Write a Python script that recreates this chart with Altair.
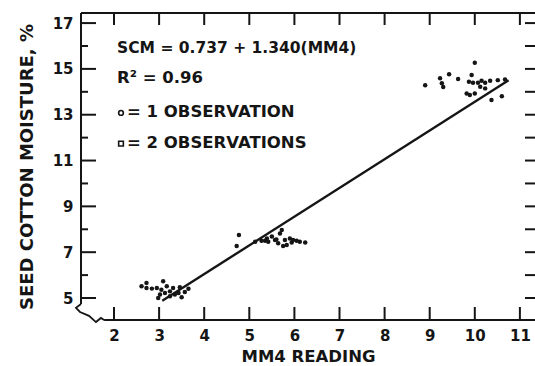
import altair as alt
import pandas as pd

# ---------------- data ----------------
obs_x = [2.61, 2.72, 2.84, 2.72, 2.95, 2.98, 3.02, 3.09, 3.17, 3.13, 3.24, 3.31, 3.35, 3.43,
         3.50, 3.57, 3.46, 3.24, 3.05, 3.65,
         4.77, 4.72, 5.13, 5.27, 5.39, 5.50, 5.57, 5.68, 5.64, 5.75, 5.79, 5.90, 5.94, 6.05,
         6.12, 6.24, 5.72, 5.42, 5.83, 5.97, 5.60, 5.35,
         8.90, 9.23, 9.27, 9.30, 9.43, 9.63, 10.00, 9.93, 9.87, 9.96, 10.07, 10.15, 10.23,
         10.34, 10.51, 10.12, 9.82, 9.89, 10.00, 10.23, 10.37, 10.60, 10.67]
obs_y = [5.51, 5.44, 5.41, 5.66, 5.44, 5.00, 5.15, 5.73, 5.51, 5.22, 5.29, 5.44, 5.15, 5.22,
         5.03, 5.26, 5.47, 5.08, 5.36, 5.40,
         7.75, 7.27, 7.46, 7.50, 7.60, 7.68, 7.53, 7.82, 7.39, 7.27, 7.53, 7.60, 7.42, 7.50,
         7.46, 7.42, 7.97, 7.46, 7.31, 7.53, 7.55, 7.50,
         14.29, 14.59, 14.37, 14.21, 14.77, 14.56, 15.27, 14.73, 14.44, 14.40, 14.40, 14.48, 14.40,
         14.48, 14.51, 14.22, 13.93, 13.86, 13.93, 14.15, 13.64, 13.81, 14.54]

fit_x = [3.07, 10.75]
fit_y = [4.88, 14.50]

x_label_values = [2, 3, 4, 5, 6, 7, 8, 9, 10, 11]
y_label_values = [5, 7, 9, 11, 13, 15, 17]
y_minor_values = [6, 8, 10, 12, 14, 16]
y_right_values = [5, 6, 7, 8, 9, 10, 11, 12, 13, 14, 15, 16, 17]

# axis-break squiggle near the lower-left corner
break_x = [1.268, 1.157, 1.246, 1.446, 1.60, 1.71, 1.78]
break_y = [4.74, 4.57, 4.39, 4.22, 3.95, 4.13, 4.04]

ann_text = ["SCM = 0.737 + 1.340(MM4)", "R\u00b2 = 0.96", "= 1 OBSERVATION", "= 2 OBSERVATIONS"]
ann_x = [2.067, 2.067, 2.288, 2.288]
ann_y = [15.69, 14.38, 12.90, 11.55]
ann_size = [15.5, 16.5, 16.5, 16.5]

sym_x = [2.155, 2.155]
sym_y = [13.08, 11.74]
sym_shape = ["circle", "square"]

# ---------------- layout ----------------
X_MIN, X_MAX = 1.268, 11.335
Y_MIN, Y_MAX = 4.04, 17.44
W, H = 454, 307
INK = "#151515"
FONT = "DejaVu Sans"

xs = alt.Scale(domain=[X_MIN, X_MAX], nice=False, zero=False)
ys = alt.Scale(domain=[Y_MIN, Y_MAX], nice=False, zero=False)

xaxis = alt.Axis(values=x_label_values, title="MM4 READING", domain=False, ticks=False,
                 tickSize=0, grid=False, labelFont=FONT, labelFontWeight="bold",
                 labelFontSize=15, labelColor=INK, labelPadding=8, labelFlush=False,
                 titleFont=FONT, titleFontWeight="bold", titleFontSize=16.5,
                 titleColor=INK, titlePadding=5, format="d")
yaxis = alt.Axis(values=y_label_values, title="SEED COTTON MOISTURE, %", domain=False,
                 ticks=False, tickSize=0, grid=False, labelFont=FONT,
                 labelFontWeight="bold", labelFontSize=15, labelColor=INK,
                 labelPadding=8, labelFlush=False, titleFont=FONT, titleFontWeight="bold",
                 titleFontSize=18, titleColor=INK, titlePadding=16, format="d")


def X(f):
    return alt.X(f, scale=xs, axis=xaxis)


def Y(f):
    return alt.Y(f, scale=ys, axis=yaxis)


obs = pd.DataFrame({"x": obs_x, "y": obs_y})
fit = pd.DataFrame({"x": fit_x, "y": fit_y})

points = alt.Chart(obs).mark_circle(size=20, color=INK, opacity=1).encode(
    x=X("x:Q"), y=Y("y:Q"))

line = alt.Chart(fit).mark_line(color=INK, strokeWidth=2.4).encode(
    x=X("x:Q"), y=Y("y:Q"))

frame = pd.DataFrame({
    "x": [X_MIN, X_MIN, 1.78],
    "x2": [X_MAX, X_MIN, X_MAX],
    "y": [Y_MAX, 4.74, Y_MIN],
    "y2": [Y_MAX, Y_MAX, Y_MIN],
})
frame_layer = alt.Chart(frame).mark_rule(color=INK, strokeWidth=2).encode(
    x=X("x:Q"), x2="x2:Q", y=Y("y:Q"), y2="y2:Q")

brk = pd.DataFrame({"x": break_x, "y": break_y, "o": list(range(len(break_x)))})
break_layer = alt.Chart(brk).mark_line(color=INK, strokeWidth=1.8).encode(
    x=X("x:Q"), y=Y("y:Q"), order="o:Q")

top_ticks = alt.Chart(pd.DataFrame({"x": x_label_values})).mark_rule(
    color=INK, strokeWidth=2).encode(x=X("x:Q"), y=alt.value(0), y2=alt.value(12))
bottom_ticks = alt.Chart(pd.DataFrame({"x": x_label_values})).mark_rule(
    color=INK, strokeWidth=2).encode(x=X("x:Q"), y=alt.value(H), y2=alt.value(H - 13))
left_major = alt.Chart(pd.DataFrame({"y": y_label_values})).mark_rule(
    color=INK, strokeWidth=2).encode(y=Y("y:Q"), x=alt.value(0), x2=alt.value(15))
left_minor = alt.Chart(pd.DataFrame({"y": y_minor_values})).mark_rule(
    color=INK, strokeWidth=2).encode(y=Y("y:Q"), x=alt.value(0), x2=alt.value(7))
right_ticks = alt.Chart(pd.DataFrame({"y": y_right_values})).mark_rule(
    color=INK, strokeWidth=2).encode(y=Y("y:Q"), x=alt.value(W - 10), x2=alt.value(W))

ann = pd.DataFrame({"t": ann_text, "x": ann_x, "y": ann_y, "s": ann_size})
ann_layer = alt.Chart(ann).mark_text(align="left", baseline="alphabetic", font=FONT,
                                     fontWeight="bold", color=INK).encode(
    x=X("x:Q"), y=Y("y:Q"), text="t:N",
    size=alt.Size("s:Q", scale=None, legend=None),
)

sym = pd.DataFrame({"x": sym_x, "y": sym_y, "shape": sym_shape})
sym_layer = alt.Chart(sym).mark_point(filled=False, size=22, strokeWidth=1.6, color=INK,
                                      opacity=1).encode(
    x=X("x:Q"), y=Y("y:Q"),
    shape=alt.Shape("shape:N", scale=None, legend=None),
)

chart = alt.layer(
    points, frame_layer, break_layer, top_ticks, bottom_ticks, left_major, left_minor,
    right_ticks, line, ann_layer, sym_layer,
).properties(
    width=W, height=H,
    padding={"left": 81, "top": 13, "right": 0, "bottom": 46},
    autosize=alt.AutoSizeParams(type="none"),
    background="white",
).configure_view(stroke=None)

chart.save("out.html", embed_options={"renderer": "svg", "actions": False})
